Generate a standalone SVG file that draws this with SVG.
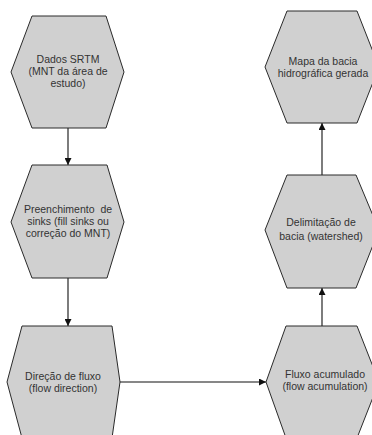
<svg xmlns="http://www.w3.org/2000/svg" width="372" height="435" viewBox="0 0 372 435">
<style>
.hex{fill:#d0d0d0;stroke:#2a2a2a;stroke-width:1}
.lbl{font-family:"Liberation Sans",Arial,sans-serif;font-size:10.5px;fill:#333;text-anchor:middle}
.con{stroke:#111;stroke-width:1.1;fill:none;marker-end:url(#ah)}
</style>
<defs>
<marker id="ah" viewBox="0 0 10 10" refX="10" refY="5" markerWidth="7" markerHeight="7" markerUnits="userSpaceOnUse" orient="auto">
<path d="M0,0 L10,5 L0,10 z" fill="#111"/>
</marker>
</defs>
<rect width="372" height="435" fill="#fff"/>
<g id="connectors">
<line class="con" x1="68" y1="128" x2="68" y2="165"/>
<line class="con" x1="68" y1="278" x2="68" y2="326"/>
<line class="con" x1="120" y1="382" x2="266" y2="382"/>
<line class="con" x1="322" y1="326" x2="322" y2="288"/>
<line class="con" x1="322" y1="175" x2="322" y2="123"/>
</g>
<g id="n1">
<polygon class="hex" points="32,16 106,16 124,72 106,128 32,128 11,72"/>
<text class="lbl" x="68" y="63">Dados SRTM</text>
<text class="lbl" x="68" y="75">(MNT da área de</text>
<text class="lbl" x="68" y="87">estudo)</text>
</g>
<g id="n2">
<polygon class="hex" points="32,165 107,165 124,222 107,278 32,278 11,222"/>
<text class="lbl" x="68" y="213" xml:space="preserve">Preenchimento  de</text>
<text class="lbl" x="68" y="225">sinks (fill sinks ou</text>
<text class="lbl" x="68" y="237">correção do MNT)</text>
</g>
<g id="n3">
<polygon class="hex" points="22,326 112,326 120,382 112,438 22,438 7,382"/>
<text class="lbl" x="63" y="380">Direção de fluxo</text>
<text class="lbl" x="63" y="392">(flow direction)</text>
</g>
<g id="n4">
<polygon class="hex" points="287,11 357,11 379,67 357,123 287,123 265,67"/>
<text class="lbl" x="323" y="65">Mapa da bacia</text>
<text class="lbl" x="323" y="77">hidrográfica gerada</text>
</g>
<g id="n5">
<polygon class="hex" points="287,175 356,175 379,230 356,288 287,288 265,230"/>
<text class="lbl" x="321" y="226">Delimitação de</text>
<text class="lbl" x="321" y="240">bacia (watershed)</text>
</g>
<g id="n6">
<polygon class="hex" points="286,326 357,326 379,382 357,438 286,438 266,382"/>
<text class="lbl" x="325" y="378">Fluxo acumulado</text>
<text class="lbl" x="325" y="390">(flow acumulation)</text>
</g>
</svg>
